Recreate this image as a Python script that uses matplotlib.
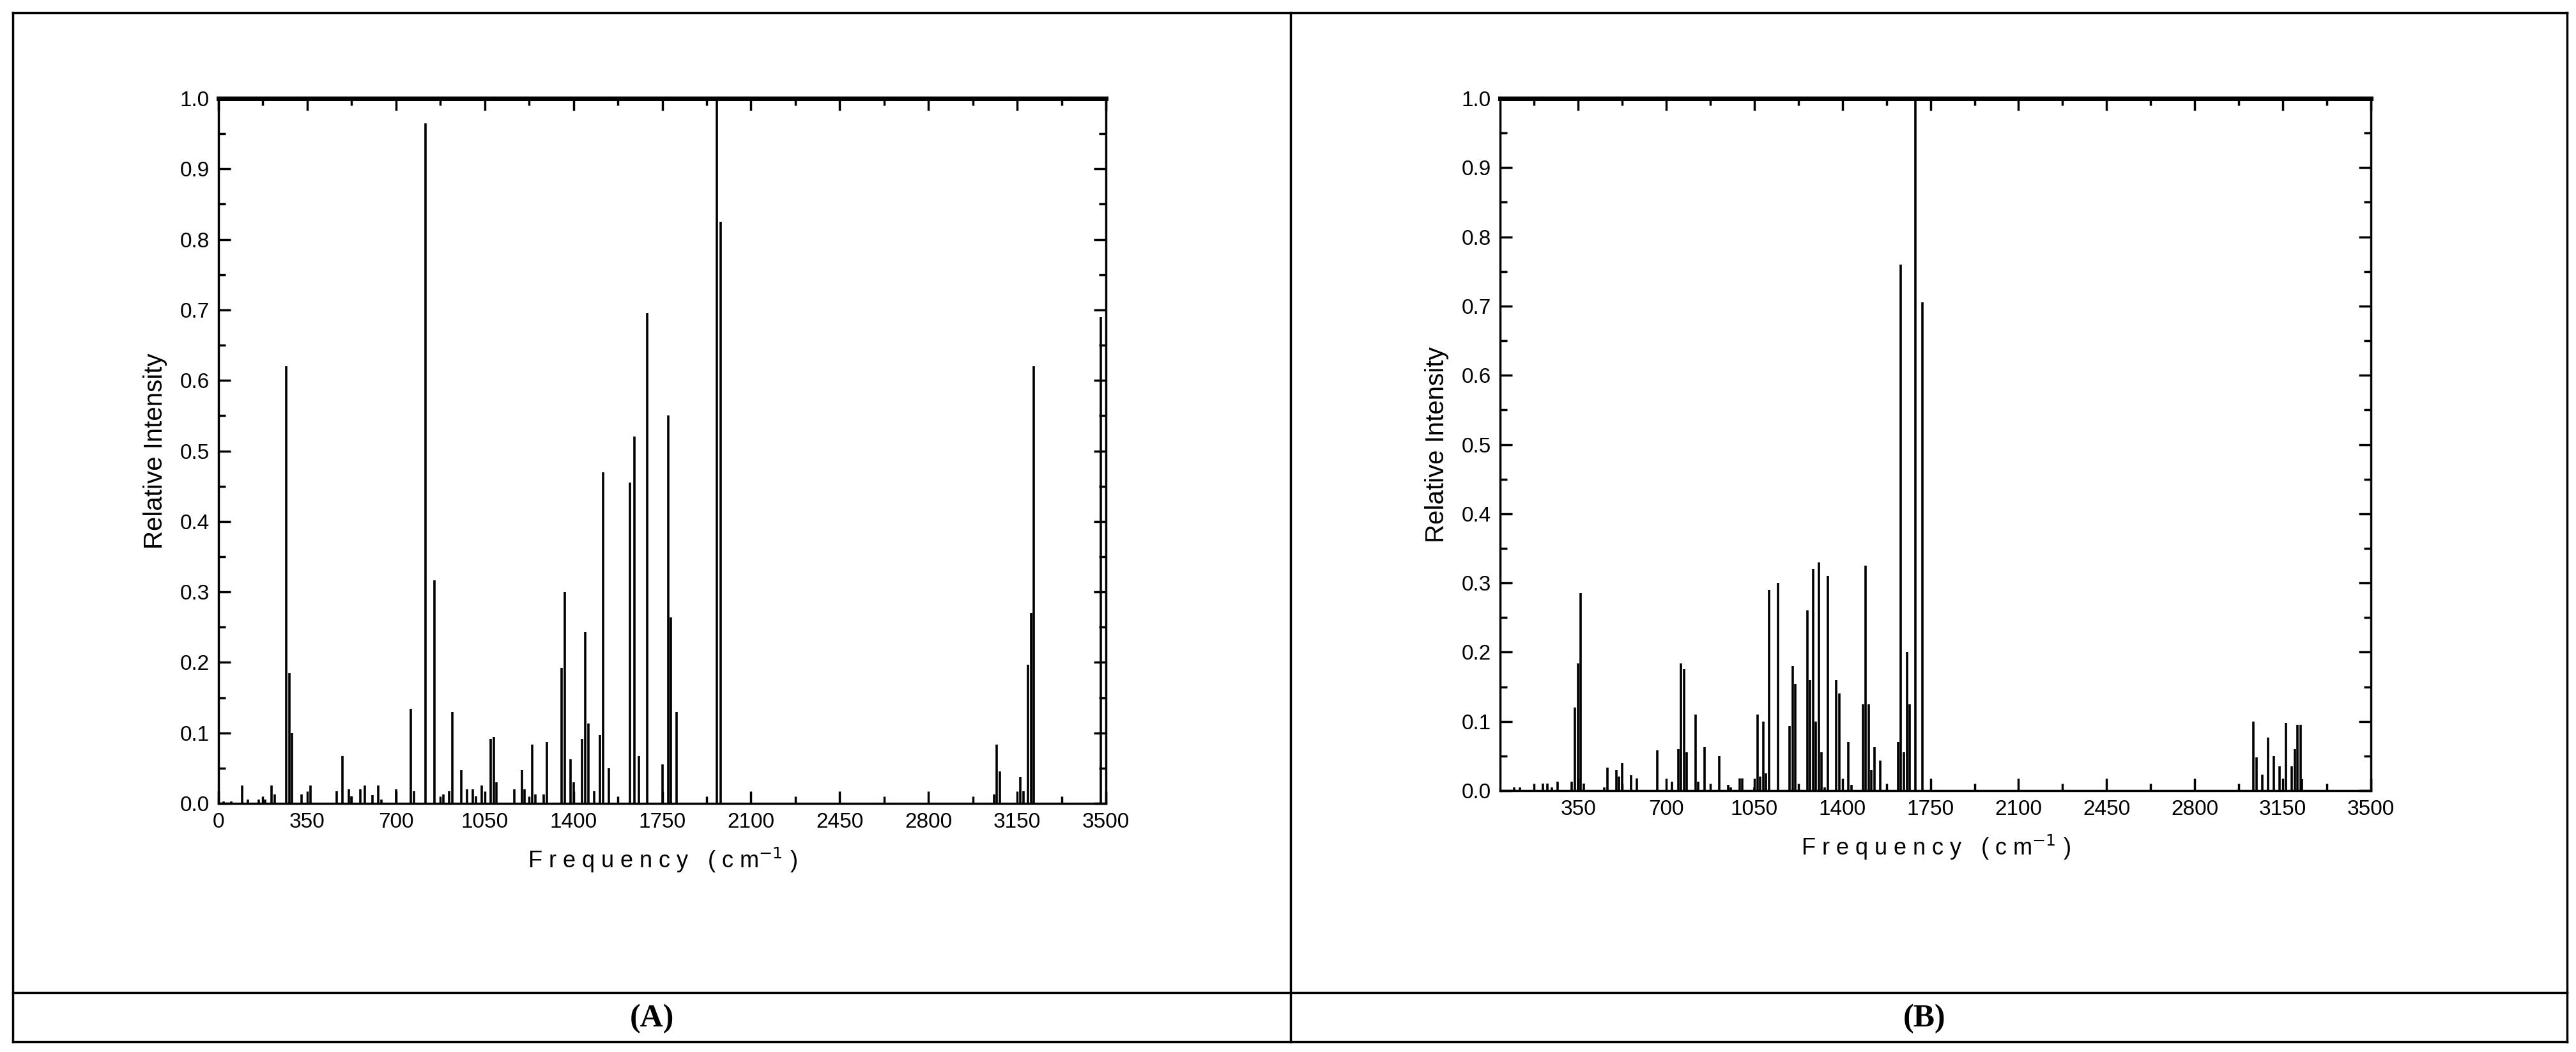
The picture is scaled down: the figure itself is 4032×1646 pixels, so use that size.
import matplotlib
matplotlib.use("Agg")
import matplotlib.pyplot as plt
from matplotlib.ticker import MultipleLocator
from matplotlib.lines import Line2D

# Panel A data
freq_a = [20, 50, 93, 117, 160, 185, 210, 222, 268, 279, 291, 327, 362,
          467, 490, 513, 525, 560, 578, 607, 630, 642, 700, 758, 770,
          817, 852, 887, 910, 922, 957, 980, 1003, 1015, 1038, 1073, 1085, 1097,
          1167, 1196, 1208, 1237, 1250, 1283, 1295, 1353, 1365, 1389, 1400,
          1435, 1447, 1458, 1482, 1505, 1517, 1540, 1622, 1640, 1657, 1692,
          1750, 1773, 1785, 1806, 1965, 1980, 3058, 3069, 3081, 3163, 3175,
          3193, 3205, 3216, 3480]
int_a = [0.003, 0.003, 0.025, 0.005, 0.005, 0.005, 0.025, 0.013, 0.62, 0.185, 0.10, 0.013, 0.025,
         0.017, 0.067, 0.02, 0.01, 0.02, 0.025, 0.012, 0.025, 0.005, 0.02, 0.134, 0.017,
         0.965, 0.316, 0.013, 0.017, 0.13, 0.047, 0.02, 0.02, 0.01, 0.025, 0.092, 0.094, 0.03,
         0.02, 0.047, 0.02, 0.083, 0.013, 0.013, 0.087, 0.192, 0.30, 0.063, 0.03,
         0.092, 0.243, 0.113, 0.017, 0.097, 0.47, 0.05, 0.455, 0.52, 0.067, 0.695,
         0.055, 0.55, 0.264, 0.13, 1.0, 0.825, 0.013, 0.083, 0.045, 0.037, 0.017,
         0.197, 0.27, 0.62, 0.69]

# Panel B data
freq_b = [96, 119, 210, 227, 245, 268, 325, 338, 350, 361, 373, 455, 467, 502, 513, 525, 560, 583,
          665, 723, 747, 758, 770, 782, 817, 828, 852, 910, 945, 957, 992, 1003,
          1050, 1062, 1073, 1085, 1097, 1108, 1143, 1190, 1202, 1213,
          1260, 1271, 1283, 1295, 1306, 1318, 1330, 1341, 1376, 1388, 1423, 1435,
          1481, 1493, 1505, 1516, 1528, 1551, 1621, 1632, 1644, 1656, 1668, 1690, 1718,
          3033, 3045, 3068, 3092, 3115, 3138, 3162, 3185, 3197, 3208, 3220, 3227]
int_b = [0.005, 0.005, 0.01, 0.01, 0.005, 0.013, 0.013, 0.12, 0.184, 0.285, 0.01, 0.005, 0.033, 0.03, 0.02, 0.04, 0.022, 0.018,
         0.058, 0.013, 0.06, 0.184, 0.175, 0.055, 0.11, 0.013, 0.063, 0.05, 0.008, 0.005, 0.018, 0.018,
         0.005, 0.11, 0.02, 0.10, 0.025, 0.29, 0.30, 0.093, 0.18, 0.154,
         0.26, 0.16, 0.32, 0.10, 0.33, 0.055, 0.005, 0.31, 0.16, 0.14, 0.07, 0.008,
         0.125, 0.325, 0.125, 0.03, 0.063, 0.043, 0.07, 0.76, 0.055, 0.20, 0.125, 1.0, 0.705,
         0.10, 0.048, 0.023, 0.077, 0.05, 0.035, 0.098, 0.035, 0.06, 0.095, 0.095, 0.017]

xticks_a = [0, 350, 700, 1050, 1400, 1750, 2100, 2450, 2800, 3150, 3500]
xticks_b = [350, 700, 1050, 1400, 1750, 2100, 2450, 2800, 3150, 3500]
yticks = [0.0, 0.1, 0.2, 0.3, 0.4, 0.5, 0.6, 0.7, 0.8, 0.9, 1.0]

W, H = 4032, 1646
fig = plt.figure(figsize=(W / 100, H / 100), dpi=100)
tickfont = ["Liberation Sans Narrow", "Liberation Sans", "DejaVu Sans"]

def hline(y, x0, x1, lw=2.5):
    fig.add_artist(Line2D([x0 / W, x1 / W], [1 - y / H, 1 - y / H], color="black", lw=lw))
def vline(x, y0, y1, lw=2.5):
    fig.add_artist(Line2D([x / W, x / W], [1 - y0 / H, 1 - y1 / H], color="black", lw=lw))

hline(20, 20, 4018); hline(1553, 20, 4018); hline(1630, 20, 4018)
vline(20, 20, 1630); vline(4018, 20, 1630); vline(2020, 20, 1630)

fig.text(1020 / W, 1 - 1594 / H, "(A)", ha="center", va="center", fontsize=36,
         fontweight="bold", family="Liberation Serif")
fig.text(3012 / W, 1 - 1594 / H, "(B)", ha="center", va="center", fontsize=36,
         fontweight="bold", family="Liberation Serif")

def setup(ax, freq, inten, xmin, xticks):
    ax.vlines(freq, 0, inten, colors="black", lw=2.6)
    ax.set_xlim(xmin, 3500)
    ax.set_ylim(0, 1.0)
    ax.set_xticks(xticks)
    ax.xaxis.set_minor_locator(MultipleLocator(175))
    ax.set_yticks(yticks)
    ax.set_yticklabels([f"{v:.1f}" for v in yticks])
    ax.yaxis.set_minor_locator(MultipleLocator(0.05))
    ax.tick_params(which="both", direction="in", top=True, right=True, width=2.5)
    ax.tick_params(which="major", length=14, labelsize=24, pad=10)
    ax.tick_params(which="minor", length=8)
    for lab in ax.get_xticklabels() + ax.get_yticklabels():
        lab.set_family(tickfont)
    for s in ax.spines.values():
        s.set_linewidth(2.5)
    ax.spines["top"].set_linewidth(5)
    ax.set_ylabel("Relative Intensity", fontsize=29, family=tickfont, labelpad=14)
    ax.set_xlabel("F r e q u e n c y   ( c m$^{-1}$ )", fontsize=26, family=tickfont, labelpad=16)

axA = fig.add_axes([342 / W, 1 - 1257 / H, 1389 / W, 1103 / H])
setup(axA, freq_a, int_a, 0, xticks_a)
axB = fig.add_axes([2348 / W, 1 - 1237 / H, 1363 / W, 1083 / H])
setup(axB, freq_b, int_b, 40, xticks_b)

fig.savefig("out.png", dpi=100)
